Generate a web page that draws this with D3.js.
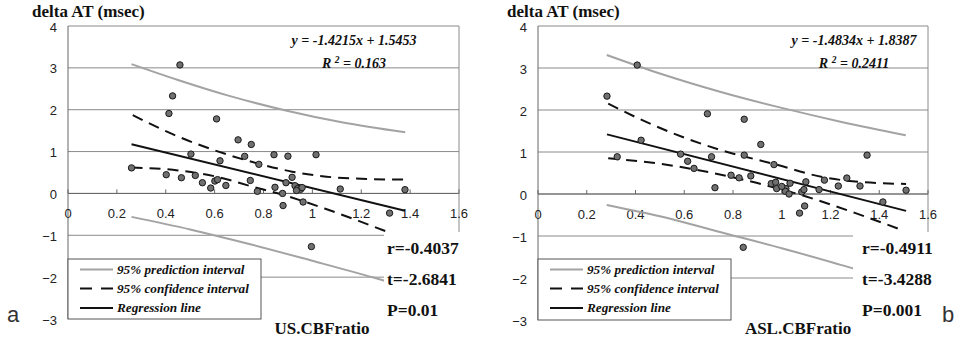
<!DOCTYPE html>
<html><head><meta charset="utf-8">
<script src="https://cdn.jsdelivr.net/npm/d3@7"></script>
<style>body{margin:0;background:#fff}svg{display:block}</style>
</head><body>
<svg id="chart" width="964" height="339"></svg>
<script>
// ---------- data ----------
const xTickValues = [0, 0.2, 0.4, 0.6, 0.8, 1, 1.2, 1.4, 1.6];
const xTickLabels = ["0", "0.2", "0.4", "0.6", "0.8", "1", "1.2", "1.4", "1.6"];
const yTickValues = [-3, -2, -1, 0, 1, 2, 3, 4];
const yTickLabels = ["\u22123", "\u22122", "\u22121", "0", "1", "2", "3", "4"];

const usX = [0.458,0.428,0.413,0.608,0.696,0.750,0.503,0.843,0.900,1.015,0.723,0.622,0.781,0.260,0.402,0.464,0.521,0.550,0.601,0.584,0.646,0.746,0.775,0.917,0.892,0.929,0.940,0.952,0.847,0.878,1.114,1.379,0.962,0.880,1.316,0.996,0.612,0.935,0.958];
const usY = [3.07,2.33,1.91,1.78,1.28,1.17,0.94,0.925,0.89,0.925,0.886,0.78,0.695,0.61,0.447,0.375,0.43,0.256,0.296,0.129,0.19,0.31,0.05,0.385,0.256,0.184,0.12,0.098,0.146,0.0,0.105,0.09,-0.205,-0.29,-0.47,-1.27,0.33,0.07,0.14];
const usSlope = -1.4215, usIntercept = 1.5453;
const usPredUpper = [[0.26,3.09],[0.45,2.71],[0.66,2.33],[0.90,1.97],[1.12,1.70],[1.38,1.46]];
const usPredLower = [[0.26,-0.56],[0.50,-0.86],[0.75,-1.22],[1.00,-1.61],[1.25,-2.01],[1.38,-2.23]];
const usConfUpper = [[0.265,1.87],[0.43,1.41],[0.60,1.03],[0.78,0.71],[0.917,0.52],[1.058,0.40],[1.20,0.35],[1.379,0.33]];
const usConfLower = [[0.26,0.62],[0.45,0.55],[0.60,0.41],[0.75,0.17],[0.90,-0.07],[1.05,-0.36],[1.20,-0.68],[1.379,-1.08]];
const usStats = ["r=-0.4037", "t=-2.6841", "P=0.01"];

const aslX = [0.407,0.283,0.695,0.423,0.585,0.712,0.325,0.614,0.640,0.792,0.825,0.726,0.846,0.914,0.846,1.350,0.968,0.873,0.957,0.975,0.979,1.017,1.015,1.030,1.034,1.082,1.091,1.099,1.153,1.175,1.232,1.267,1.321,1.510,1.415,1.094,1.073,0.842,1.000];
const aslY = [3.07,2.33,1.91,1.28,0.95,0.886,0.886,0.78,0.61,0.447,0.385,0.15,1.78,1.18,0.925,0.925,0.70,0.43,0.248,0.28,0.129,0.129,0.064,0.0,0.256,0.05,0.105,0.29,0.105,0.33,0.19,0.38,0.19,0.09,-0.19,-0.285,-0.455,-1.27,0.18];
const aslSlope = -1.4834, aslIntercept = 1.8387;
const aslPredUpper = [[0.282,3.31],[0.50,2.87],[0.75,2.43],[1.00,2.05],[1.25,1.71],[1.509,1.40]];
const aslPredLower = [[0.282,-0.26],[0.50,-0.53],[0.75,-0.91],[1.00,-1.29],[1.25,-1.70],[1.51,-2.14]];
const aslConfUpper = [[0.288,2.15],[0.446,1.71],[0.747,1.05],[0.965,0.72],[1.17,0.40],[1.335,0.28],[1.51,0.24]];
const aslConfLower = [[0.288,0.85],[0.50,0.72],[0.70,0.52],[0.90,0.26],[1.10,-0.06],[1.30,-0.45],[1.499,-0.87]];
const aslStats = ["r=-0.4911", "t=-3.4288", "P=0.001"];

const legendLabels = ["95% prediction interval", "95% confidence interval", "Regression line"];

// ---------- drawing ----------
const svg = d3.select("#chart");
const SERIF = "'Liberation Serif','Times New Roman',serif";
const SANS = "'Liberation Sans',Arial,sans-serif";
const GRID = "#8a8a8a", PRED = "#a3a3a3";

function panel(cfg) {
  const x = d3.scaleLinear().domain([0, 1.6]).range([cfg.left, cfg.right]);
  const y = d3.scaleLinear().domain([-3, 4]).range([cfg.bottom, cfg.top]);
  const g = svg.append("g");

  g.selectAll(".grid").data(yTickValues.filter(v => v > -3)).join("line")
    .attr("x1", x(0)).attr("x2", x(1.6))
    .attr("y1", d => y(d)).attr("y2", d => y(d))
    .attr("stroke", GRID).attr("stroke-width", 1);
  g.append("line").attr("x1", x(1.6)).attr("x2", x(1.6)).attr("y1", y(4)).attr("y2", y(-3))
    .attr("stroke", GRID);
  g.append("line").attr("x1", x(0)).attr("x2", x(0)).attr("y1", y(4)).attr("y2", y(-3))
    .attr("stroke", "#666");
  g.append("line").attr("x1", x(0)).attr("x2", x(1.6)).attr("y1", y(0)).attr("y2", y(0))
    .attr("stroke", "#666");
  g.selectAll(".xt").data(xTickValues).join("line")
    .attr("x1", d => x(d)).attr("x2", d => x(d)).attr("y1", y(0)).attr("y2", y(0) - 4)
    .attr("stroke", "#666");
  g.selectAll(".xl").data(xTickValues).join("text")
    .attr("x", d => x(d)).attr("y", y(0) + 24.5)
    .attr("text-anchor", "middle").attr("font-family", SANS).attr("font-size", 13)
    .attr("fill", "#222").text((d, i) => xTickLabels[i]);
  g.selectAll(".yl").data(yTickValues).join("text")
    .attr("x", x(0) - 11).attr("y", d => y(d) + 5.5)
    .attr("text-anchor", "end").attr("font-family", SANS).attr("font-size", 13)
    .attr("fill", "#222").text((d, i) => yTickLabels[i]);

  const line = d3.line().x(d => x(d[0])).y(d => y(d[1])).curve(d3.curveMonotoneX);
  [cfg.predU, cfg.predL].forEach(arr => g.append("path").attr("d", line(arr))
    .attr("fill", "none").attr("stroke", PRED).attr("stroke-width", 2));
  [cfg.confU, cfg.confL].forEach(arr => g.append("path").attr("d", line(arr))
    .attr("fill", "none").attr("stroke", "#111").attr("stroke-width", 2)
    .attr("stroke-dasharray", "11,7"));
  const ext = d3.extent(cfg.xs);
  g.append("path").attr("d", d3.line().x(d => x(d)).y(d => y(cfg.slope * d + cfg.intercept))(ext))
    .attr("fill", "none").attr("stroke", "#111").attr("stroke-width", 2);
  g.selectAll(".pt").data(cfg.xs).join("circle")
    .attr("cx", d => x(d)).attr("cy", (d, i) => y(cfg.ys[i])).attr("r", 3.2)
    .attr("fill", "#707070").attr("stroke", "#1a1a1a").attr("stroke-width", 1);

  const lg = g.append("g");
  lg.append("rect").attr("x", x(0)).attr("y", cfg.legTop).attr("width", 193)
    .attr("height", y(-3) - cfg.legTop).attr("fill", "#fff").attr("stroke", "#555");
  const rows = [cfg.legTop + 10.5, cfg.legTop + 29.5, cfg.legTop + 49];
  const styles = [{c: PRED, d: null}, {c: "#111", d: "12,9"}, {c: "#111", d: null}];
  rows.forEach((ry, i) => {
    lg.append("line").attr("x1", x(0) + 12).attr("x2", x(0) + 45).attr("y1", ry).attr("y2", ry)
      .attr("stroke", styles[i].c).attr("stroke-width", 2)
      .attr("stroke-dasharray", styles[i].d);
    lg.append("text").attr("x", x(0) + 49).attr("y", ry + 4.3)
      .attr("font-family", SERIF).attr("font-size", 13.2).attr("font-weight", "bold")
      .attr("font-style", "italic").attr("fill", "#111").text(legendLabels[i]);
  });

  g.append("rect").attr("x", cfg.boxX).attr("y", 232).attr("width", cfg.boxW).attr("height", 107)
    .attr("fill", "#fff");
  cfg.stats.forEach((s, i) => g.append("text").attr("x", cfg.statX).attr("y", 253.5 + i * 31)
    .attr("font-family", SERIF).attr("font-size", 17.5).attr("font-weight", "bold")
    .attr("fill", "#111").text(s));

  g.append("text").attr("x", cfg.titleX).attr("y", 17).attr("font-family", SERIF)
    .attr("font-size", 17).attr("font-weight", "bold").attr("fill", "#111").text("delta AT (msec)");
  g.append("text").attr("x", cfg.xTitleX).attr("y", 334).attr("text-anchor", "middle")
    .attr("font-family", SERIF).attr("font-size", 17).attr("font-weight", "bold")
    .attr("fill", "#111").text(cfg.xTitle);

  g.append("text").attr("x", cfg.eqX).attr("y", 44.5).attr("text-anchor", "middle")
    .attr("font-family", SERIF).attr("font-size", 14).attr("font-weight", "bold")
    .attr("font-style", "italic").attr("fill", "#111")
    .text(`y = ${cfg.slope}x + ${cfg.intercept}`);
  const r2 = g.append("text").attr("x", cfg.eqX).attr("y", 67.5).attr("text-anchor", "middle")
    .attr("font-family", SERIF).attr("font-size", 14).attr("font-weight", "bold")
    .attr("font-style", "italic").attr("fill", "#111");
  r2.append("tspan").text("R ");
  r2.append("tspan").attr("dy", -5).attr("font-size", 9.5).text("2");
  r2.append("tspan").attr("dy", 5).text("  = " + cfg.r2);

  g.append("text").attr("x", cfg.letterX).attr("y", 322).attr("font-family", SANS)
    .attr("font-size", 22).attr("fill", "#333").text(cfg.letter);
}

panel({left: 68, right: 459, top: 26, bottom: 319, legTop: 259,
  xs: usX, ys: usY, slope: usSlope, intercept: usIntercept, r2: "0.163",
  predU: usPredUpper, predL: usPredLower, confU: usConfUpper, confL: usConfLower,
  stats: usStats, boxX: 384, boxW: 86, statX: 387, titleX: 32, xTitleX: 322,
  xTitle: "US.CBFratio", eqX: 354, letter: "a", letterX: 7});
panel({left: 538, right: 928, top: 26, bottom: 320, legTop: 259,
  xs: aslX, ys: aslY, slope: aslSlope, intercept: aslIntercept, r2: "0.2411",
  predU: aslPredUpper, predL: aslPredLower, confU: aslConfUpper, confL: aslConfLower,
  stats: aslStats, boxX: 853, boxW: 111, statX: 862, titleX: 507, xTitleX: 798,
  xTitle: "ASL.CBFratio", eqX: 854, letter: "b", letterX: 942});
</script>
</body></html>
